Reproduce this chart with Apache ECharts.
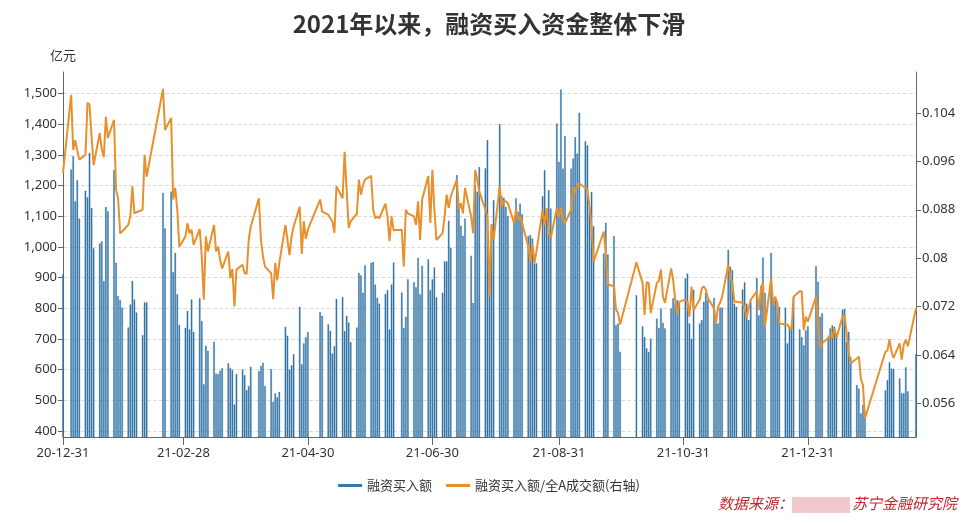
<!DOCTYPE html>
<html><head><meta charset="utf-8">
<script src="https://cdn.jsdelivr.net/npm/echarts@6/dist/echarts.min.js"></script>
<style>html,body{margin:0;padding:0;background:#fff;}#c{width:978px;height:524px;}</style>
</head><body><div id="c"></div>
<script>
// Trading dates (YY-MM-DD)
const tradeDates = [
'20-12-31',
'21-01-04','21-01-05','21-01-06','21-01-07','21-01-08','21-01-11','21-01-12','21-01-13','21-01-14','21-01-15',
'21-01-18','21-01-19','21-01-20','21-01-21','21-01-22','21-01-25','21-01-26','21-01-27','21-01-28','21-01-29',
'21-02-01','21-02-02','21-02-03','21-02-04','21-02-05','21-02-08','21-02-09','21-02-10','21-02-18','21-02-19',
'21-02-22','21-02-23','21-02-24','21-02-25','21-02-26',
'21-03-01','21-03-02','21-03-03','21-03-04','21-03-05','21-03-08','21-03-09','21-03-10','21-03-11','21-03-12',
'21-03-15','21-03-16','21-03-17','21-03-18','21-03-19','21-03-22','21-03-23','21-03-24','21-03-25','21-03-26',
'21-03-29','21-03-30','21-03-31','21-04-01','21-04-02','21-04-06','21-04-07','21-04-08','21-04-09',
'21-04-12','21-04-13','21-04-14','21-04-15','21-04-16','21-04-19','21-04-20','21-04-21','21-04-22','21-04-23',
'21-04-26','21-04-27','21-04-28','21-04-29','21-04-30','21-05-06','21-05-07',
'21-05-10','21-05-11','21-05-12','21-05-13','21-05-14','21-05-17','21-05-18','21-05-19','21-05-20','21-05-21',
'21-05-24','21-05-25','21-05-26','21-05-27','21-05-28','21-05-31','21-06-01','21-06-02','21-06-03','21-06-04',
'21-06-07','21-06-08','21-06-09','21-06-10','21-06-11','21-06-15','21-06-16','21-06-17','21-06-18',
'21-06-21','21-06-22','21-06-23','21-06-24','21-06-25','21-06-28','21-06-29','21-06-30','21-07-01','21-07-02',
'21-07-05','21-07-06','21-07-07','21-07-08','21-07-09','21-07-12','21-07-13','21-07-14','21-07-15','21-07-16',
'21-07-19','21-07-20','21-07-21','21-07-22','21-07-23','21-07-26','21-07-27','21-07-28','21-07-29','21-07-30',
'21-08-02','21-08-03','21-08-04','21-08-05','21-08-06','21-08-09','21-08-10','21-08-11','21-08-12','21-08-13',
'21-08-16','21-08-17','21-08-18','21-08-19','21-08-20','21-08-23','21-08-24','21-08-25','21-08-26','21-08-27',
'21-08-30','21-08-31','21-09-01','21-09-02','21-09-03','21-09-06','21-09-07','21-09-08','21-09-09','21-09-10',
'21-09-13','21-09-14','21-09-15','21-09-16','21-09-17','21-09-22','21-09-23','21-09-24',
'21-09-27','21-09-28','21-09-29','21-09-30','21-10-08',
'21-10-11','21-10-12','21-10-13','21-10-14','21-10-15','21-10-18','21-10-19','21-10-20','21-10-21','21-10-22',
'21-10-25','21-10-26','21-10-27','21-10-28','21-10-29','21-11-01','21-11-02','21-11-03','21-11-04','21-11-05',
'21-11-08','21-11-09','21-11-10','21-11-11','21-11-12','21-11-15','21-11-16','21-11-17','21-11-18','21-11-19',
'21-11-22','21-11-23','21-11-24','21-11-25','21-11-26','21-11-29','21-11-30','21-12-01','21-12-02','21-12-03',
'21-12-06','21-12-07','21-12-08','21-12-09','21-12-10','21-12-13','21-12-14','21-12-15','21-12-16','21-12-17',
'21-12-20','21-12-21','21-12-22','21-12-23','21-12-24','21-12-27','21-12-28','21-12-29','21-12-30','21-12-31',
'22-01-04','22-01-05','22-01-06','22-01-07','22-01-10','22-01-11','22-01-12','22-01-13','22-01-14',
'22-01-17','22-01-18','22-01-19','22-01-20','22-01-21','22-01-24','22-01-25','22-01-26','22-01-27','22-01-28',
'22-02-07','22-02-08','22-02-09','22-02-10','22-02-11','22-02-14','22-02-15','22-02-16','22-02-17','22-02-18',
'22-02-22'
];
// 融资买入额 (亿元)
const buyAmount = [
910,
1252,1296,1148,1217,1092,1183,1161,1306,1127,995,
1011,1018,888,1130,1116,1250,948,839,826,802,
737,812,889,828,786,712,819,819,1176,1060,
1180,918,980,846,745,
736,791,731,828,723,832,758,552,677,661,
690,587,585,596,605,620,605,598,486,585,
600,582,533,546,609,595,612,622,546,
601,495,522,509,527,739,710,600,614,650,
804,617,685,705,722,787,775,
747,726,652,676,830,836,725,775,753,689,
737,915,907,850,940,948,951,877,834,815,
846,859,731,877,949,851,736,772,894,
885,868,964,845,938,959,859,894,933,835,
850,953,953,1085,997,1234,1128,1068,1036,1092,
971,817,1200,1180,1260,1256,1348,924,1074,1152,
1400,1165,1160,1130,1100,1081,1158,1114,1141,1106,
1035,1038,1027,946,946,1165,1250,1120,1185,1125,
1402,1277,1513,1255,1361,1255,1288,1358,1304,1437,
1344,1331,1130,1179,1067,978,1078,975,
1035,745,750,658,842,
741,706,669,658,701,766,736,799,752,734,
799,832,815,826,815,897,913,750,700,860,
750,761,821,850,826,834,750,750,802,802,
990,935,924,815,804,861,884,815,761,821,
899,777,872,965,850,980,815,837,815,804,
802,685,739,744,837,731,706,679,728,741,
937,886,772,783,706,734,744,739,718,
796,797,690,723,640,549,538,457,485,462,
532,565,624,603,602,571,522,522,607,529,
650
];
// 融资买入额/全A成交额(右轴)
const buyRatio = [
0.0941,
0.1070,0.0979,0.0995,0.0978,0.0963,0.0971,0.1057,0.1054,0.1001,0.0954,
0.1007,0.0980,0.0967,0.1034,0.0999,0.1029,0.0913,0.0899,0.0841,0.0844,
0.0855,0.0870,0.0919,0.0874,0.0876,0.0880,0.0971,0.0935,0.1080,0.1012,
0.1032,0.0897,0.0916,0.0880,0.0819,
0.0836,0.0858,0.0841,0.0847,0.0822,0.0848,0.0803,0.0731,0.0836,0.0811,
0.0855,0.0811,0.0819,0.0797,0.0783,0.0811,0.0767,0.0782,0.0720,0.0781,
0.0789,0.0775,0.0774,0.0830,0.0852,0.0899,0.0830,0.0803,0.0786,
0.0775,0.0732,0.0792,0.0763,0.0792,0.0855,0.0830,0.0805,0.0836,0.0852,
0.0885,0.0807,0.0861,0.0832,0.0847,0.0897,0.0877,
0.0872,0.0866,0.0861,0.0842,0.0919,0.0899,0.0976,0.0913,0.0850,0.0861,
0.0873,0.0930,0.0905,0.0921,0.0930,0.0936,0.0880,0.0866,0.0869,0.0866,
0.0890,0.0869,0.0828,0.0869,0.0846,0.0847,0.0786,0.0880,0.0874,
0.0869,0.0855,0.0894,0.0830,0.0897,0.0936,0.0858,0.0946,0.0880,0.0830,
0.0841,0.0869,0.0905,0.0883,0.0902,0.0930,0.0880,0.0891,0.0874,0.0916,
0.0869,0.0841,0.0946,0.0930,0.0910,0.0880,0.0869,0.0736,0.0855,0.0830,
0.0919,0.0885,0.0894,0.0894,0.0891,0.0858,0.0880,0.0863,0.0869,0.0858,
0.0819,0.0794,0.0825,0.0792,0.0811,0.0880,0.0855,0.0883,0.0841,0.0833,
0.0883,0.0869,0.0883,0.0863,0.0858,0.0880,0.0916,0.0908,0.0921,0.0924,
0.0916,0.0913,0.0885,0.0852,0.0794,0.0844,0.0808,0.0756,
0.0754,0.0715,0.0709,0.0690,0.0793,
0.0759,0.0706,0.0760,0.0759,0.0709,0.0759,0.0762,0.0781,0.0736,0.0726,
0.0783,0.0764,0.0731,0.0706,0.0728,0.0731,0.0728,0.0703,0.0753,0.0714,
0.0731,0.0750,0.0753,0.0748,0.0734,0.0717,0.0692,0.0720,0.0726,0.0736,
0.0789,0.0770,0.0759,0.0728,0.0728,0.0726,0.0717,0.0701,0.0717,0.0731,
0.0745,0.0714,0.0748,0.0759,0.0687,0.0767,0.0723,0.0736,0.0726,0.0692,
0.0690,0.0690,0.0684,0.0681,0.0736,0.0745,0.0745,0.0681,0.0703,0.0695,
0.0736,0.0692,0.0651,0.0659,0.0668,0.0673,0.0668,0.0684,0.0668,
0.0703,0.0706,0.0676,0.0645,0.0626,0.0634,0.0637,0.0600,0.0590,0.0535,
0.0645,0.0647,0.0666,0.0645,0.0635,0.0659,0.0632,0.0657,0.0665,0.0654,
0.0717
];
const xTickLabels = ['20-12-31','21-02-28','21-04-30','21-06-30','21-08-31','21-10-31','21-12-31'];
const leftTicks = [400,500,600,700,800,900,1000,1100,1200,1300,1400,1500];
const rightTicks = [0.056,0.064,0.072,0.08,0.088,0.096,0.104];
const firstDay = '2020-12-31', lastDay = '2022-02-22';

// calendar-day categories
const categories = [];
{
  const p = s => s < 10 ? '0' + s : '' + s;
  let t = Date.parse(firstDay + 'T00:00:00Z');
  const e = Date.parse(lastDay + 'T00:00:00Z');
  while (t <= e) {
    const d = new Date(t);
    categories.push(p(d.getUTCFullYear() % 100) + '-' + p(d.getUTCMonth() + 1) + '-' + p(d.getUTCDate()));
    t += 86400000;
  }
}
const pos = new Map(tradeDates.map((d, i) => [d, i]));
const barData = categories.map(c => pos.has(c) ? buyAmount[pos.get(c)] : null);
const lineData = categories.map(c => pos.has(c) ? buyRatio[pos.get(c)] : null);
const showTick = (i, v) => xTickLabels.indexOf(v) >= 0;

const FONT = '"Noto Sans CJK SC", "Noto Sans", sans-serif';
const chart = echarts.init(document.getElementById('c'), null, {renderer: 'canvas'});
chart.setOption({
  animation: false,
  backgroundColor: '#fff',
  textStyle: {fontFamily: FONT},
  title: {
    text: '2021年以来，融资买入资金整体下滑',
    left: 'center', top: 7,
    textStyle: {fontSize: 24, fontWeight: 'bold', color: '#333', fontFamily: FONT}
  },
  grid: {left: 63, right: 62, top: 72, bottom: 87, containLabel: false},
  legend: {
    bottom: 27, left: 'center', itemWidth: 24, itemHeight: 3, itemGap: 14,
    icon: 'rect', itemStyle: {borderWidth: 0},
    textStyle: {fontSize: 13, color: '#333', fontFamily: FONT},
    data: ['融资买入额', '融资买入额/全A成交额(右轴)']
  },
  xAxis: {
    type: 'category', data: categories, boundaryGap: false,
    axisLine: {lineStyle: {color: '#666'}},
    axisTick: {interval: showTick, length: 8, lineStyle: {color: '#666'}},
    axisLabel: {interval: showTick, color: '#333', fontSize: 13, margin: 10, fontFamily: 'Noto Sans'},
    splitLine: {show: false}
  },
  yAxis: [{
    type: 'value', min: 380, max: 1570,
    name: '亿元', nameLocation: 'end', nameGap: 10,
    nameTextStyle: {color: '#333', fontSize: 13, fontFamily: FONT},
    axisLine: {show: true, lineStyle: {color: '#666'}},
    axisTick: {show: true, length: 5, customValues: leftTicks, lineStyle: {color: '#666'}},
    axisLabel: {customValues: leftTicks, color: '#333', fontSize: 13, margin: 6, fontFamily: 'Noto Sans',
      formatter: v => v.toLocaleString('en-US')},
    splitLine: {show: true, lineStyle: {type: 'dashed', color: '#dcdcdc'}}
  }, {
    type: 'value', min: 0.0504, max: 0.1108,
    axisLine: {show: true, lineStyle: {color: '#666'}},
    axisTick: {show: true, length: 5, customValues: rightTicks, lineStyle: {color: '#666'}},
    axisLabel: {customValues: rightTicks, color: '#333', fontSize: 13, margin: 6, fontFamily: 'Noto Sans',
      formatter: v => String(+v.toFixed(3))},
    splitLine: {show: false}
  }],
  series: [{
    name: '融资买入额', type: 'bar', data: barData, barWidth: 1.5,
    itemStyle: {color: '#3479ae', borderColor: '#2a6596', borderWidth: 0.3}, yAxisIndex: 0
  }, {
    name: '融资买入额/全A成交额(右轴)', type: 'line', data: lineData, yAxisIndex: 1,
    connectNulls: true, showSymbol: false, symbol: 'none',
    lineStyle: {color: '#e8902c', width: 2}, itemStyle: {color: '#e8902c'}
  }],
  graphic: [
    {type: 'text', left: 718, top: 496, style: {text: '数据来源：', fill: '#c0272d', font: 'italic 15px "Noto Sans CJK SC"'}},
    {type: 'rect', left: 792, top: 497, shape: {width: 58, height: 16}, style: {fill: '#efc9cd'}},
    {type: 'text', left: 852, top: 496, style: {text: '苏宁金融研究院', fill: '#c0272d', font: 'italic 15px "Noto Sans CJK SC"'}}
  ]
});
</script></body></html>
